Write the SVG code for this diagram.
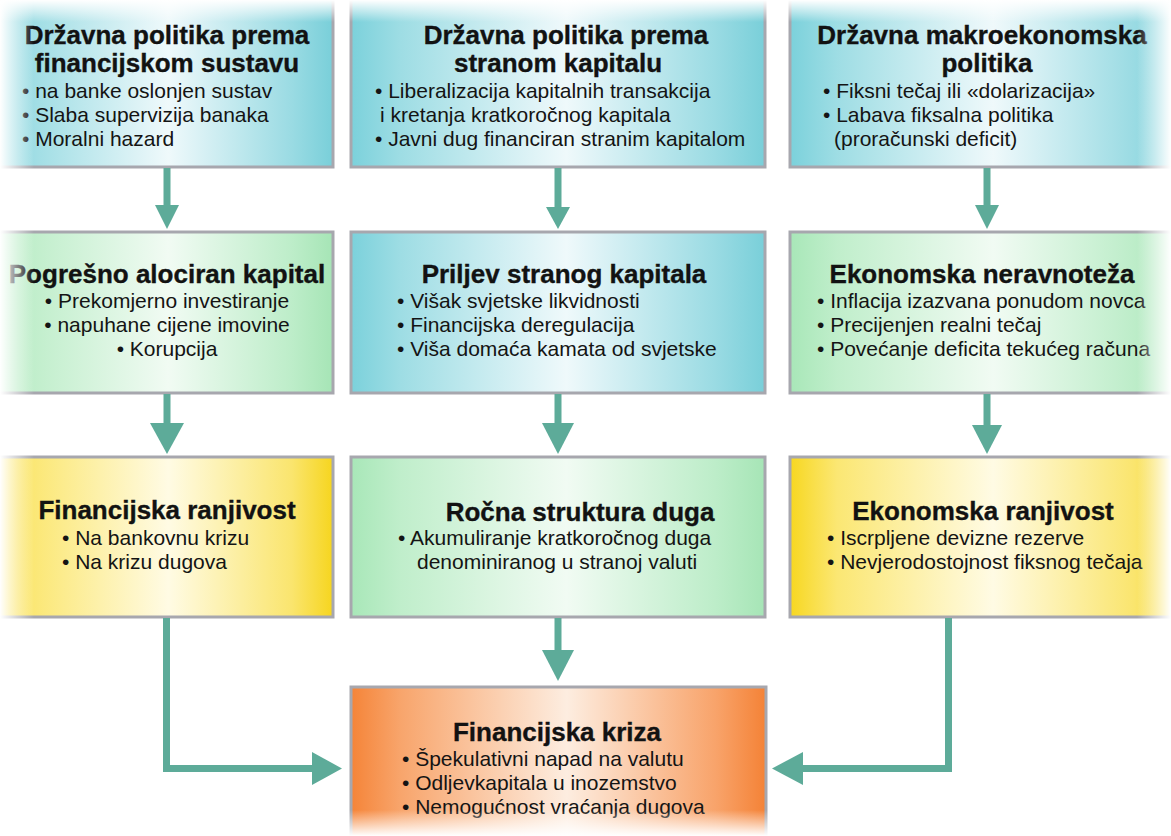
<svg xmlns="http://www.w3.org/2000/svg" width="1171" height="836" viewBox="0 0 1171 836">
<defs>
<linearGradient id="gBlue" x1="0" y1="0" x2="1" y2="0">
<stop offset="0" stop-color="#7bd1db"/><stop offset="0.12" stop-color="#9edde4"/><stop offset="0.52" stop-color="#eff9fb"/><stop offset="0.88" stop-color="#9adbe3"/><stop offset="1" stop-color="#79cfd9"/>
</linearGradient>
<linearGradient id="gGreen" x1="0" y1="0" x2="1" y2="0">
<stop offset="0" stop-color="#a8e7b8"/><stop offset="0.12" stop-color="#c0eecb"/><stop offset="0.52" stop-color="#f1fbf3"/><stop offset="0.88" stop-color="#bdedc9"/><stop offset="1" stop-color="#a6e5b6"/>
</linearGradient>
<linearGradient id="gYellow" x1="0" y1="0" x2="1" y2="0">
<stop offset="0" stop-color="#f7d720"/><stop offset="0.12" stop-color="#fbe773"/><stop offset="0.52" stop-color="#fffbe4"/><stop offset="0.88" stop-color="#fae56e"/><stop offset="1" stop-color="#f6d51e"/>
</linearGradient>
<linearGradient id="gOrange" x1="0" y1="0" x2="1" y2="0">
<stop offset="0" stop-color="#f58438"/><stop offset="0.12" stop-color="#f8a56c"/><stop offset="0.52" stop-color="#fdede0"/><stop offset="0.88" stop-color="#f8a36a"/><stop offset="1" stop-color="#f48236"/>
</linearGradient>
<linearGradient id="fadeL" x1="0" y1="0" x2="1" y2="0">
<stop offset="0" stop-color="#fff" stop-opacity="1"/><stop offset="1" stop-color="#fff" stop-opacity="0"/>
</linearGradient>
<linearGradient id="fadeR" x1="1" y1="0" x2="0" y2="0">
<stop offset="0" stop-color="#fff" stop-opacity="1"/><stop offset="1" stop-color="#fff" stop-opacity="0"/>
</linearGradient>
<linearGradient id="fadeT" x1="0" y1="0" x2="0" y2="1">
<stop offset="0" stop-color="#fff" stop-opacity="1"/><stop offset="1" stop-color="#fff" stop-opacity="0"/>
</linearGradient>
<linearGradient id="fadeB" x1="0" y1="1" x2="0" y2="0">
<stop offset="0" stop-color="#fff" stop-opacity="1"/><stop offset="1" stop-color="#fff" stop-opacity="0"/>
</linearGradient>
</defs>
<style>
.box{stroke:#a7a7ae;stroke-width:3}
.t{font-family:"Liberation Sans",Arial,sans-serif;font-weight:bold;font-size:26px;fill:#121212;stroke:#121212;stroke-width:0.35}
.b{font-family:"Liberation Sans",Arial,sans-serif;font-size:21px;fill:#141414}
.m{text-anchor:middle}
.c{fill:none;stroke:#5dab99;stroke-width:7}
.h{fill:#5dab99}
</style>
<rect width="1171" height="836" fill="#ffffff"/>

<g id="n1">
<rect class="box" x="-10" y="-10" width="343" height="177" fill="url(#gBlue)"/>
<text class="t m" x="167" y="44">Državna politika prema</text>
<text class="t m" x="167" y="72">financijskom sustavu</text>
<text class="b" x="22" y="98">• na banke oslonjen sustav</text>
<text class="b" x="22" y="122">• Slaba supervizija banaka</text>
<text class="b" x="22" y="146">• Moralni hazard</text>
</g>
<g id="n2">
<rect class="box" x="351" y="-10" width="414" height="177" fill="url(#gBlue)"/>
<text class="t m" x="566" y="44">Državna politika prema</text>
<text class="t m" x="558" y="72">stranom kapitalu</text>
<text class="b" x="375" y="98">• Liberalizacija kapitalnih transakcija</text>
<text class="b" x="380" y="122">i kretanja kratkoročnog kapitala</text>
<text class="b" x="375" y="146">• Javni dug financiran stranim kapitalom</text>
</g>
<g id="n3">
<rect class="box" x="790" y="-10" width="391" height="177" fill="url(#gBlue)"/>
<text class="t m" x="982" y="44">Državna makroekonomska</text>
<text class="t m" x="987" y="72">politika</text>
<text class="b" x="823" y="98">• Fiksni tečaj ili «dolarizacija»</text>
<text class="b" x="823" y="122">• Labava fiksalna politika</text>
<text class="b" x="834" y="146">(proračunski deficit)</text>
</g>

<g id="n4">
<rect class="box" x="-10" y="232" width="343" height="161" fill="url(#gGreen)"/>
<text class="t m" x="167" y="283">Pogrešno alociran kapital</text>
<text class="b m" x="167" y="308">• Prekomjerno investiranje</text>
<text class="b m" x="167" y="332">• napuhane cijene imovine</text>
<text class="b m" x="167" y="356">• Korupcija</text>
</g>
<g id="n5">
<rect class="box" x="351" y="232" width="414" height="161" fill="url(#gBlue)"/>
<text class="t m" x="564" y="283">Priljev stranog kapitala</text>
<text class="b" x="397" y="308">• Višak svjetske likvidnosti</text>
<text class="b" x="397" y="332">• Financijska deregulacija</text>
<text class="b" x="397" y="356">• Viša domaća kamata od svjetske</text>
</g>
<g id="n6">
<rect class="box" x="790" y="232" width="391" height="161" fill="url(#gGreen)"/>
<text class="t m" x="982" y="283">Ekonomska neravnoteža</text>
<text class="b" x="817" y="308">• Inflacija izazvana ponudom novca</text>
<text class="b" x="817" y="332">• Precijenjen realni tečaj</text>
<text class="b" x="817" y="356">• Povećanje deficita tekućeg računa</text>
</g>

<g id="n7">
<rect class="box" x="-10" y="457" width="343" height="160" fill="url(#gYellow)"/>
<text class="t m" x="167" y="519">Financijska ranjivost</text>
<text class="b" x="62" y="545">• Na bankovnu krizu</text>
<text class="b" x="62" y="569">• Na krizu dugova</text>
</g>
<g id="n8">
<rect class="box" x="351" y="457" width="414" height="160" fill="url(#gGreen)"/>
<text class="t m" x="580" y="521">Ročna struktura duga</text>
<text class="b" x="398" y="545">• Akumuliranje kratkoročnog duga</text>
<text class="b" x="417" y="569">denominiranog u stranoj valuti</text>
</g>
<g id="n9">
<rect class="box" x="790" y="457" width="391" height="160" fill="url(#gYellow)"/>
<text class="t m" x="983" y="520">Ekonomska ranjivost</text>
<text class="b" x="827" y="545">• Iscrpljene devizne rezerve</text>
<text class="b" x="827" y="569">• Nevjerodostojnost fiksnog tečaja</text>
</g>

<g id="n10">
<rect class="box" x="351" y="687" width="415" height="170" fill="url(#gOrange)"/>
<text class="t m" x="557" y="741">Financijska kriza</text>
<text class="b" x="402" y="766">• Špekulativni napad na valutu</text>
<text class="b" x="402" y="790">• Odljevkapitala u inozemstvo</text>
<text class="b" x="402" y="814">• Nemogućnost vraćanja dugova</text>
</g>

<g id="connectors">
<line class="c" x1="167" y1="168" x2="167" y2="207"/>
<polygon class="h" points="155,205 179,205 167,229"/>
<line class="c" x1="558" y1="168" x2="558" y2="209"/>
<polygon class="h" points="546,207 570,207 558,229"/>
<line class="c" x1="987" y1="168" x2="987" y2="207"/>
<polygon class="h" points="975,205 999,205 987,229"/>

<line class="c" x1="167" y1="394" x2="167" y2="425"/>
<polygon class="h" points="150,423 184,423 167,454"/>
<line class="c" x1="558" y1="394" x2="558" y2="425"/>
<polygon class="h" points="542,423 574,423 558,454"/>
<line class="c" x1="987" y1="394" x2="987" y2="427"/>
<polygon class="h" points="972,425 1002,425 987,454"/>

<line class="c" x1="558" y1="618" x2="558" y2="652"/>
<polygon class="h" points="542,650 574,650 558,681"/>

<polyline class="c" points="166.5,618 166.5,768.5 314,768.5"/>
<polygon class="h" points="312,752 312,785 342,768.5"/>
<polyline class="c" points="948.5,618 948.5,768.5 801,768.5"/>
<polygon class="h" points="803,752 803,785 772,768.5"/>
</g>

<rect x="0" y="0" width="34" height="836" fill="url(#fadeL)"/>
<rect x="1137" y="0" width="34" height="836" fill="url(#fadeR)"/>
<rect x="0" y="0" width="1171" height="22" fill="url(#fadeT)"/>
<rect x="0" y="810" width="1171" height="26" fill="url(#fadeB)"/>
</svg>
